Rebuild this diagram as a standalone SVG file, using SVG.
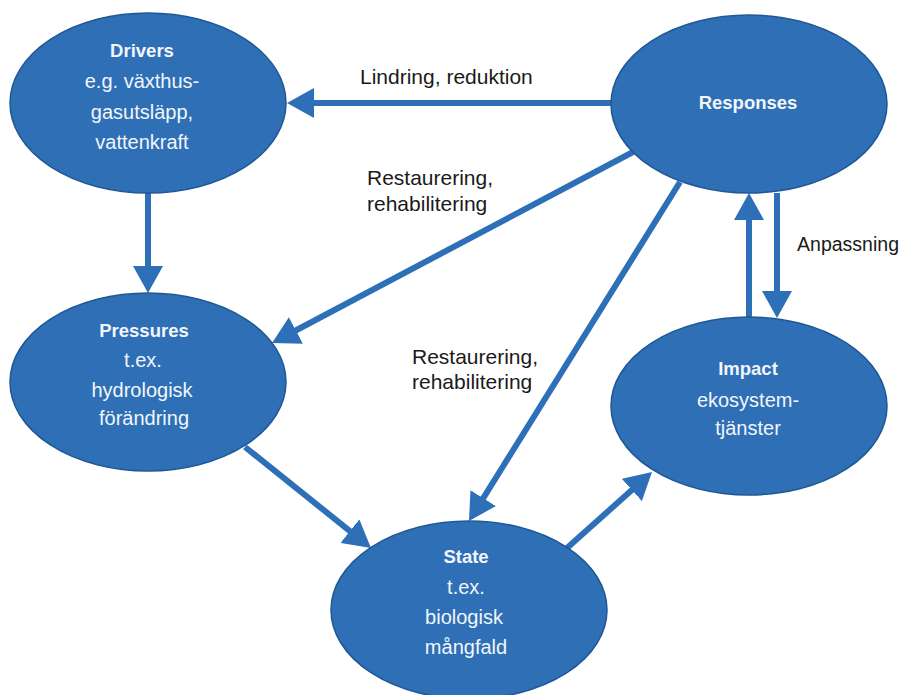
<svg xmlns="http://www.w3.org/2000/svg" width="902" height="695" viewBox="0 0 902 695">
<style>
.node{fill:#2E6FB6;stroke:#1F5896;stroke-width:1.5}
.t{font-family:"Liberation Sans",Arial,sans-serif;font-size:20px;fill:#F2F6FB;text-anchor:middle}
.b{font-weight:bold;font-size:18.5px}
.lbl{font-family:"Liberation Sans",Arial,sans-serif;font-size:21px;fill:#1A1A1A}
.c{stroke:#2E70B8;stroke-width:6;fill:none;marker-end:url(#ah)}
</style>
<defs>
<marker id="ah" markerUnits="userSpaceOnUse" viewBox="0 0 27 30" refX="12" refY="15" markerWidth="27" markerHeight="30" orient="auto">
<path d="M0,0 L27,15 L0,30 Z" fill="#2E70B8"/>
</marker>
</defs>
<g id="connectors">
<line class="c" x1="612" y1="103" x2="302" y2="103"/>
<line class="c" x1="148" y1="193" x2="148" y2="278"/>
<line class="c" x1="633" y1="152" x2="285.3" y2="336"/>
<line class="c" x1="680" y1="182" x2="476.9" y2="508.3"/>
<line class="c" x1="749" y1="317" x2="749" y2="208"/>
<line class="c" x1="777" y1="193" x2="777" y2="303"/>
<line class="c" x1="245" y1="447" x2="359.3" y2="538.6"/>
<line class="c" x1="567" y1="548" x2="640.8" y2="482"/>
</g>
<g id="labels">
<text class="lbl" x="360" y="84">Lindring, reduktion</text>
<text class="lbl" x="367" y="185">Restaurering,</text>
<text class="lbl" x="367" y="211">rehabilitering</text>
<text class="lbl" x="412" y="364">Restaurering,</text>
<text class="lbl" x="412" y="389">rehabilitering</text>
<text class="lbl" x="899" y="251" style="font-size:19.5px;text-anchor:end">Anpassning</text>
</g>
<g id="drivers">
<ellipse class="node" cx="148" cy="103" rx="138" ry="90"/>
<text class="t b" x="142" y="57">Drivers</text>
<text class="t" x="142" y="88">e.g. växthus-</text>
<text class="t" x="142" y="119">gasutsläpp,</text>
<text class="t" x="142" y="149">vattenkraft</text>
</g>
<g id="responses">
<ellipse class="node" cx="749" cy="104" rx="138" ry="89"/>
<text class="t b" x="748" y="109">Responses</text>
</g>
<g id="pressures">
<ellipse class="node" cx="148" cy="382" rx="138" ry="89"/>
<text class="t b" x="144" y="337">Pressures</text>
<text class="t" x="143" y="367">t.ex.</text>
<text class="t" x="142" y="397">hydrologisk</text>
<text class="t" x="144" y="425">förändring</text>
</g>
<g id="impact">
<ellipse class="node" cx="749" cy="406" rx="138" ry="89"/>
<text class="t b" x="748" y="375">Impact</text>
<text class="t" x="748" y="407">ekosystem-</text>
<text class="t" x="748" y="435">tjänster</text>
</g>
<g id="state">
<ellipse class="node" cx="469" cy="610" rx="138" ry="89"/>
<text class="t b" x="466" y="563">State</text>
<text class="t" x="466" y="594">t.ex.</text>
<text class="t" x="464" y="624">biologisk</text>
<text class="t" x="466" y="654">mångfald</text>
</g>
</svg>
